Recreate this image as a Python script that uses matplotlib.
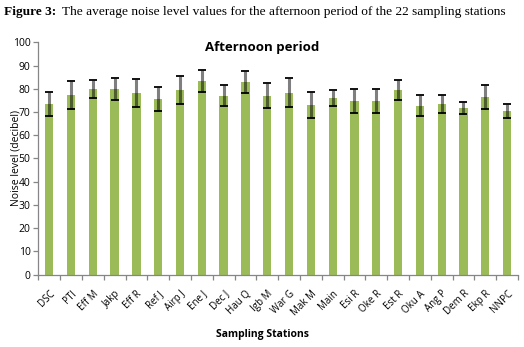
import numpy as np
import matplotlib
matplotlib.use('Agg')
import matplotlib.pyplot as plt

# Estaciones de muestreo y niveles promedio de ruido (tarde)
estaciones = ['DSC', 'PTI', 'Eff M', 'Jakp', 'Eff R', 'Ref J', 'Airp J', 'Ene J',
              'Dec J', 'Hau Q', 'Igb M', 'War G', 'Mak M', 'Main', 'Esi R', 'Oke R',
              'Est R', 'Oku A', 'Ang P', 'Dem R', 'Ekp R', 'NNPC']
promedio = [73.4, 77.3, 79.9, 79.9, 78.2, 75.6, 79.5, 83.3, 76.9, 82.9, 77.0,
            78.3, 73.1, 76.0, 74.7, 74.7, 79.5, 72.6, 73.4, 71.7, 76.4, 70.4]
desviacion = [5.0, 6.0, 3.9, 4.9, 6.0, 5.3, 6.0, 4.7, 4.5, 4.6, 5.4,
              6.2, 5.6, 3.5, 5.0, 5.0, 4.3, 4.5, 3.9, 2.4, 5.0, 3.0]

fuente = ['Open Sans', 'DejaVu Sans']
fig = plt.figure(figsize=(5.24, 3.47), dpi=100)
ax = fig.add_axes([0.0731, 0.2089, 0.9154, 0.6692])

x = np.arange(len(estaciones))
ax.bar(x, promedio, width=0.38, color='#9BBB59', zorder=2)
# Barras de error: linea gris translucida y remates negros
ax.errorbar(x, promedio, yerr=desviacion, fmt='none', ecolor=(0, 0, 0, 0.5),
            elinewidth=2.2, capsize=0, zorder=3)
ax.errorbar(x, promedio, yerr=desviacion, fmt='none', ecolor='black',
            elinewidth=0, capsize=3, capthick=1.3, zorder=4)

ax.set_xlim(-0.5, len(estaciones) - 0.5)
ax.set_ylim(0, 100)
ax.set_yticks(range(0, 101, 10))
ax.set_xticks(np.arange(-0.5, len(estaciones)), minor=False)
ax.set_xticklabels([])
ax.set_xticks(x, minor=True)
ax.set_xticklabels(estaciones, minor=True, rotation=45, ha='right',
                   rotation_mode='anchor', fontsize=7, family=fuente)
ax.tick_params(axis='x', which='minor', length=0, pad=10)
ax.tick_params(axis='x', which='major', length=3.5, color='#868686', width=0.9)
ax.tick_params(axis='y', length=3.5, color='#868686', width=0.9, labelsize=7.5, pad=2)
for t in ax.get_yticklabels():
    t.set_family(fuente)

for lado in ['top', 'right']:
    ax.spines[lado].set_visible(False)
for lado in ['left', 'bottom']:
    ax.spines[lado].set_color('#868686')
    ax.spines[lado].set_linewidth(0.9)

ax.set_ylabel('Noise level (decibel)', fontsize=7.5, family=fuente)
ax.yaxis.set_label_coords(-0.036, 0.5)
fig.text(0.5, 0.037, 'Sampling Stations', ha='center', va='center', fontsize=7.5,
         fontweight='bold', family=fuente)
fig.text(0.5, 0.862, 'Afternoon period', ha='center', va='center', fontsize=9.5,
         fontweight='bold', family=fuente)

# Leyenda de la figura en la parte superior
fig.text(0.008, 0.965, 'Figure 3:', ha='left', va='center', fontsize=9.6,
         fontweight='bold', family='Liberation Serif')
fig.text(0.118, 0.965, 'The average noise level values for the afternoon period of the 22 sampling stations',
         ha='left', va='center', fontsize=9.6, family='Liberation Serif')

plt.savefig('out.png', dpi=100)
